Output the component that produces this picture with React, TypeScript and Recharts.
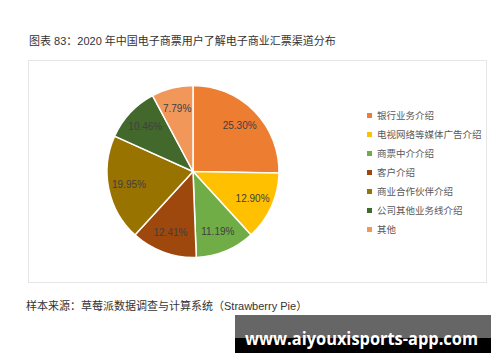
import { PieChart, Pie, Cell, Legend } from "recharts";

// channel names and shares (%)
const channels = [
  "银行业务介绍",
  "电视网络等媒体广告介绍",
  "商票中介介绍",
  "客户介绍",
  "商业合作伙伴介绍",
  "公司其他业务线介绍",
  "其他",
];
const shares = [25.3, 12.9, 11.19, 12.41, 19.95, 10.46, 7.79];
const colors = ["#ED7D31", "#FFC000", "#70AD47", "#9E480E", "#997300", "#43682B", "#F1975A"];

const data = channels.map((name, i) => ({ name, value: shares[i] }));

const FONT = '"Liberation Sans", "Noto Sans CJK SC", sans-serif';
const RADIAN = Math.PI / 180;

function renderLabel(props: any) {
  const { cx, cy, midAngle, outerRadius, value } = props;
  const r = outerRadius * 0.76;
  const x = cx + r * Math.cos(-midAngle * RADIAN);
  const y = cy + r * Math.sin(-midAngle * RADIAN);
  return (
    <text
      x={x}
      y={y}
      fill="#404040"
      fontSize={10}
      fontFamily={FONT}
      textAnchor="middle"
      dominantBaseline="central"
    >
      {value.toFixed(2)}%
    </text>
  );
}

function LegendList() {
  return (
    <div style={{ fontFamily: FONT, fontSize: 9.5, color: "#595959" }}>
      {channels.map((name, i) => (
        <div key={name} style={{ display: "flex", alignItems: "center", height: 19 }}>
          <span
            style={{
              display: "inline-block",
              width: 5,
              height: 5,
              background: colors[i],
              marginRight: 5,
            }}
          />
          {name}
        </div>
      ))}
    </div>
  );
}

export default function App() {
  return (
    <div
      style={{
        position: "absolute",
        left: 0,
        top: 0,
        width: 500,
        height: 362,
        background: "#fff",
        fontFamily: FONT,
        overflow: "hidden",
      }}
    >
      <div style={{ position: "absolute", left: 29, top: 32, fontSize: 11, color: "#333" }}>
        图表 83：2020 年中国电子商票用户了解电子商业汇票渠道分布
      </div>

      <div
        style={{
          position: "absolute",
          left: 28,
          top: 60,
          width: 457,
          height: 221,
          border: "1px solid #e6e6e6",
        }}
      >
        <PieChart width={457} height={221} margin={{ top: 0, right: 0, bottom: 0, left: 0 }}>
          <Pie
            data={data}
            dataKey="value"
            nameKey="name"
            cx={164}
            cy={110.5}
            outerRadius={86}
            startAngle={90}
            endAngle={-270}
            stroke="#fff"
            strokeWidth={1.5}
            label={renderLabel}
            labelLine={false}
            isAnimationActive={false}
          >
            {data.map((d, i) => (
              <Cell key={d.name} fill={colors[i]} />
            ))}
          </Pie>
          <Legend
            content={<LegendList />}
            layout="vertical"
            wrapperStyle={{ position: "absolute", left: 338, top: 44.5, width: 120 }}
          />
        </PieChart>
      </div>

      <div style={{ position: "absolute", left: 26, top: 297, fontSize: 11, color: "#333" }}>
        样本来源：草莓派数据调查与计算系统（Strawberry Pie）
      </div>

      <svg
        width={256}
        height={38}
        style={{ position: "absolute", left: 235, top: 315, display: "block" }}
      >
        <rect x={0} y={0} width={256} height={23} fill="#666" />
        <rect x={0} y={23} width={256} height={15} fill="#000" />
        <text
          x={10}
          y={30}
          textLength={233}
          lengthAdjust="spacingAndGlyphs"
          fill="#fff"
          fontFamily='"Open Sans", sans-serif'
          fontWeight={700}
          fontSize={18}
        >
          www.aiyouxisports-app.com
        </text>
      </svg>
    </div>
  );
}
